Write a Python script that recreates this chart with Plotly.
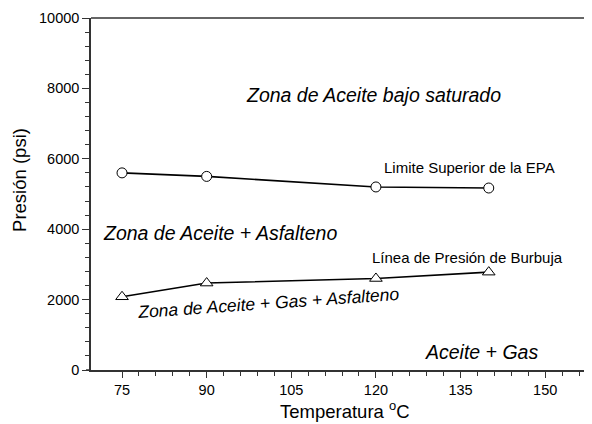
import plotly.graph_objects as go

# Data
temp_epa = [75, 90, 120, 140]
pres_epa = [5600, 5500, 5200, 5170]
temp_burb = [75, 90, 120, 140]
pres_burb = [2080, 2470, 2600, 2780]

x_major = [75, 90, 105, 120, 135, 150]
x_minor = [t for t in range(78, 159, 3)]
y_major = [0, 2000, 4000, 6000, 8000, 10000]
y_labels = ["0", "2000", "4000", "6000", "8000", "10000"]
y_minor = [v for v in range(400, 10000, 400)]

FONT = "Liberation Sans, Arial, sans-serif"

fig = go.Figure()
fig.add_trace(go.Scatter(
    x=temp_epa, y=pres_epa, mode="lines+markers",
    line=dict(color="black", width=1.6),
    marker=dict(symbol="circle", size=10, color="white",
                line=dict(color="black", width=1)),
    showlegend=False))
fig.add_trace(go.Scatter(
    x=temp_burb, y=pres_burb, mode="lines+markers",
    line=dict(color="black", width=1.6),
    marker=dict(symbol="triangle-up", size=11, color="white",
                line=dict(color="black", width=1)),
    showlegend=False))

axis_common = dict(showgrid=False, zeroline=False, showline=True,
                   linecolor="#333", linewidth=1.5, ticks="outside",
                   tickcolor="#333", tickwidth=1,
                   tickfont=dict(family=FONT, size=14.5, color="black"))

fig.update_xaxes(range=[69.5, 158.3], tickmode="array", tickvals=x_major,
                 ticklen=6,
                 minor=dict(tickmode="array", tickvals=x_minor, ticklen=4,
                            ticks="outside", tickcolor="#333", tickwidth=1),
                 **axis_common)
fig.update_yaxes(range=[0, 10000], tickmode="array", tickvals=y_major,
                 ticktext=y_labels, ticklen=7,
                 minor=dict(tickmode="array", tickvals=y_minor, ticklen=4,
                            ticks="outside", tickcolor="#333", tickwidth=1),
                 **axis_common)

# top border and small x-axis extension left of y-axis
fig.add_shape(type="line", xref="paper", yref="paper", x0=0, x1=1, y0=1, y1=1,
              line=dict(color="#333", width=1.5))
fig.add_shape(type="line", xref="paper", yref="paper", x0=-5/501, x1=0, y0=0, y1=0,
              line=dict(color="#333", width=1.5))

ann = [
    dict(text="<i>Zona de Aceite bajo saturado</i>", x=119.5, y=7812, size=19.5, angle=0),
    dict(text="Limite Superior de la EPA", x=136.5, y=5739, size=15, angle=0),
    dict(text="<i>Zona de Aceite + Asfalteno</i>", x=92.4, y=3892, size=19.5, angle=0),
    dict(text="Línea de Presión de Burbuja", x=136.2, y=3182, size=15, angle=0),
    dict(text="<i>Zona de Aceite + Gas + Asfalteno</i>", x=100.9, y=1903, size=17.5, angle=-4),
    dict(text="<i>Aceite + Gas</i>", x=138.8, y=511, size=19.5, angle=0),
]
for a in ann:
    fig.add_annotation(text=a["text"], x=a["x"], y=a["y"], xref="x", yref="y",
                       showarrow=False, textangle=a["angle"],
                       xanchor="center", yanchor="middle",
                       font=dict(family=FONT, size=a["size"], color="black"))

fig.add_annotation(text="Presión (psi)", xref="paper", yref="paper",
                   x=-0.1417, y=0.54, showarrow=False, textangle=-90,
                   xanchor="center", yanchor="middle",
                   font=dict(family=FONT, size=18.5, color="black"))
fig.add_annotation(text="Temperatura <sup>o</sup>C", xref="paper", yref="paper",
                   x=0.507, y=-0.1136, showarrow=False,
                   xanchor="center", yanchor="middle",
                   font=dict(family=FONT, size=18.5, color="black"))

# page has an 8px body margin, so the figure is sized to fit the 592x424 window
fig.update_layout(width=584, height=416,
                  margin=dict(l=83, r=0, t=10, b=54),
                  paper_bgcolor="white", plot_bgcolor="white")

fig.write_html("out.html")
